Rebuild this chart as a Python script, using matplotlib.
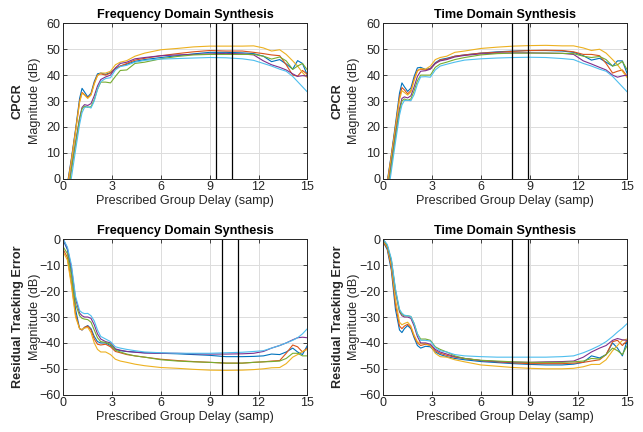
import matplotlib
matplotlib.use('Agg')
import matplotlib.pyplot as plt

plt.rcParams['font.family'] = ['Liberation Sans', 'DejaVu Sans']

# common delay grid (samples)
delay = [0, 0.25, 0.5, 0.75, 1.0, 1.15, 1.3, 1.5, 1.7, 1.9, 2.1, 2.3, 2.6, 2.9, 3.2, 3.5, 3.9,
         4.4, 5, 6, 7, 8, 9, 10, 11, 11.7, 12.3, 12.8, 13.3, 13.7, 14.1, 14.4, 14.7, 15]

line_colors = ['#0072BD', '#D95319', '#EDB120', '#7E2F8E', '#77AC30', '#4DBEEE']

# CPCR, frequency domain synthesis (one row per line)
cpcr_freq = [
    [-12, -2, 8, 19, 31, 34.9, 33.5, 31.6, 33, 37.5, 40.5, 40.8, 40.3, 41, 42.5, 43.5, 44.2,
     45.3, 46, 46.8, 47.5, 48.2, 48.8, 48.8, 48.6, 48.3, 47.3, 45.2, 46, 44.3, 42.3, 45.6, 44.5, 40],
    [-12, -2.5, 7.5, 18.5, 30, 33.3, 32.5, 31.3, 32.5, 37, 40, 40.5, 40, 40.8, 42.5, 43.5, 44.5,
     45.8, 46.5, 47.5, 48.3, 49, 49.5, 49.3, 49.3, 48.8, 48.3, 47.8, 47.5, 44, 40, 39.6, 41.8, 40.3],
    [-13, -3, 7, 18, 29.5, 33, 32.3, 31, 32.3, 36.5, 39.8, 40.8, 40.8, 41.5, 44, 45, 45.6,
     47.3, 48.5, 49.8, 50.3, 50.9, 51.2, 51.2, 51.2, 51.3, 50.5, 49.3, 49.8, 48, 45.5, 43.5, 41, 39],
    [-18, -7, 4, 14, 23.5, 27.5, 28.6, 28.3, 29, 32, 35.8, 38.3, 39.3, 40, 42.8, 44.5, 45,
     46.3, 46.8, 47.5, 47.8, 48, 48.2, 48.4, 48.2, 47.8, 45.5, 44, 43, 42, 40.5, 39.5, 39.8, 39.6],
    [-18, -7.5, 3.5, 13.5, 23, 27, 28, 27.6, 27.8, 30.5, 34.5, 37.3, 37.3, 37, 39.5, 41.8, 42,
     44.5, 45, 46.3, 47.2, 47.8, 48, 48, 48, 48, 47.3, 46.2, 47, 45.5, 42.2, 43.5, 44.5, 42],
    [-20, -9, 0.5, 11, 21, 25.5, 27.5, 27.8, 27.3, 30, 34.5, 37.5, 38.7, 39, 42, 43.3, 43.8,
     45, 45.7, 46.2, 46.4, 46.6, 46.8, 46.7, 46.3, 45.7, 44.5, 43.5, 42.3, 41.5, 39.5, 37.5, 35.5, 33.5],
]

# CPCR, time domain synthesis
cpcr_time = [
    [-12, -1, 9.5, 21, 33, 37, 35.5, 33.7, 35, 39.5, 42.8, 43, 42.2, 42.6, 44.8, 46, 46.5,
     47.3, 47.8, 48.5, 49, 49.3, 49.5, 49.5, 49.3, 48.8, 47.5, 45.8, 46.5, 45, 43.5, 45.5, 45.5, 40.5],
    [-12, -1.5, 9, 20, 31.5, 35.2, 34.3, 32.8, 34, 38.5, 41.8, 42.3, 42, 42.5, 44.5, 45.8, 46.2,
     47.3, 47.8, 48.5, 48.8, 49.2, 49.5, 49.6, 49.5, 49, 48, 48, 47.5, 44.5, 40.8, 41.5, 42, 39.5],
    [-13, -2, 8.5, 19.5, 30.5, 34, 33.3, 32.3, 33.5, 38, 41.5, 42.5, 42.3, 43.5, 46, 46.8, 47.3,
     48.8, 49.3, 50.3, 50.8, 51.2, 51.4, 51.5, 51.3, 51.3, 50.5, 49.5, 50, 48.5, 46, 44, 41.5, 39],
    [-16, -5, 6, 17, 27, 31, 31.6, 31.2, 32, 35.5, 39.5, 41.5, 41.7, 42.3, 44.5, 45.5, 46,
     47, 47.6, 48.2, 48.5, 48.6, 48.6, 48.5, 48.4, 48, 45.5, 44.3, 43, 42, 40, 39.2, 39.7, 40],
    [-17, -6, 5, 16, 26, 30, 30.8, 30.3, 30.8, 34, 37.8, 40, 40, 40, 43, 44.3, 45,
     46, 46.8, 47.8, 48.3, 48.5, 48.5, 48.5, 48.4, 48.3, 47.3, 46.8, 47.2, 46, 43.5, 44, 45.3, 42],
    [-19, -8, 3, 14, 24.5, 28.5, 30.2, 30.3, 30.1, 32.5, 36.5, 39.3, 39.4, 39.2, 42, 43.5, 44.2,
     45, 45.8, 46.3, 46.6, 46.8, 46.9, 46.8, 46.4, 46, 44.5, 43.5, 42.3, 41.5, 39.5, 37.5, 35.5, 33.5],
]

# residual tracking error, frequency domain synthesis
rte_freq = [
    [-0.5, -4, -13, -27, -34.5, -35, -34, -33.3, -34.5, -37.5, -39.5, -40, -40, -41, -42.5, -43, -43.3,
     -43.5, -43.8, -44, -44.2, -44.5, -44.8, -45.3, -45.3, -45.2, -45, -44.3, -44.5, -43.5, -42, -43.5, -44.5, -41],
    [-4, -7, -17, -29, -34.5, -35, -34, -33.5, -35, -38.5, -40.5, -40.8, -40.5, -41.5, -43.3, -43.8, -44.5,
     -45, -45.5, -46.3, -46.8, -47.2, -47.5, -47.8, -47.8, -47.5, -47.3, -47, -46.8, -44, -40.8, -41.5, -43.5, -42],
    [-5, -8, -18, -30, -34.5, -34.8, -34.3, -34, -36, -40, -42.5, -43.5, -43.5, -44.5, -46.3, -47, -47.5,
     -48.2, -48.8, -49.5, -49.8, -50.2, -50.5, -50.6, -50.5, -50.3, -50, -49.6, -49.5, -48, -45.5, -44.5, -43.3, -42.5],
    [0, -3.5, -11, -23, -28.5, -29.5, -30, -30, -30.5, -33, -36.5, -38.5, -39.5, -40, -42.3, -42.8, -43.3,
     -43.6, -43.9, -44, -44, -44.2, -44.3, -44.3, -44.2, -44, -43.3, -42, -41, -40, -38.8, -38, -37.8, -38],
    [-3, -5.5, -14, -25, -29.5, -30.5, -30.8, -31, -32, -35, -38, -39.5, -39.8, -40.5, -42.8, -43.5, -44.3,
     -45, -45.5, -46.5, -47, -47.3, -47.5, -47.8, -47.8, -47.5, -47.3, -47.2, -47, -46, -44, -44, -45, -45],
    [0, -3, -10, -22, -27.5, -28.3, -28.7, -28.6, -29.5, -31.5, -35, -37.5, -38.5, -39.5, -41.5, -42, -42.5,
     -43, -43.5, -43.8, -44, -44, -44, -43.8, -43.6, -43.3, -43, -42, -41, -40, -39, -38, -36.5, -34.5],
]

# residual tracking error, time domain synthesis
rte_time = [
    [-1, -4, -12, -27, -35, -36, -34.5, -33.3, -34.5, -38, -41, -42, -41.3, -41.5, -43.5, -44.5, -45.3,
     -46, -46.5, -47.2, -47.6, -48, -48.3, -48.5, -48.5, -48.2, -47.5, -45, -45.8, -44.5, -40, -42, -45, -39],
    [-1, -3.5, -11, -25, -33.5, -34.5, -33.5, -32.8, -34, -37.5, -40, -41, -40.5, -41, -43, -44, -44.8,
     -45.5, -46, -46.8, -47.3, -47.7, -48, -48, -48, -47.8, -47.5, -47, -46.5, -44.5, -39.5, -39, -41, -39],
    [-0.5, -3, -10, -23, -32, -33, -32.5, -32, -33.5, -37, -39.5, -40.3, -40.3, -41, -44, -45.3, -45.5,
     -46.5, -47.3, -48.5, -49, -49.5, -49.8, -50, -50, -49.8, -49.2, -48.3, -48.3, -46.5, -43, -41, -39, -38.5],
    [0, -2.5, -8.5, -20, -28, -29.5, -30, -30, -30.5, -33.5, -37.5, -40, -40, -40.5, -42.5, -43.5, -44.3,
     -45.3, -46, -46.8, -47.2, -47.4, -47.5, -47.3, -47.2, -47, -45.5, -43.5, -42, -41, -39, -38.3, -38.8, -39],
    [0, -2.5, -8, -19.5, -27.5, -29, -29.5, -29.5, -29.8, -32.5, -36.5, -38.5, -38.5, -39, -41.5, -42.5, -43.5,
     -45, -46, -46.7, -47, -47.3, -47.5, -47.5, -47.5, -47.3, -47, -46, -46.2, -44.5, -42, -43, -44.5, -41],
    [0, -2, -7.5, -19, -27, -28.5, -29.3, -29.5, -29.8, -32.5, -36.5, -39, -39, -39.3, -41.8, -43, -43.5,
     -44.5, -45, -45.3, -45.5, -45.5, -45.5, -45.5, -45.3, -45, -43.8, -42.5, -41, -39.5, -37.5, -35.8, -34.3, -32.5],
]

# vertical markers per panel
marks_cpcr_freq = [9.39, 10.39]
marks_cpcr_time = [7.89, 8.87]
marks_rte_freq = [9.75, 10.76]
marks_rte_time = [7.89, 8.87]

xticks = [0, 3, 6, 9, 12, 15]
cpcr_yticks = [0, 10, 20, 30, 40, 50, 60]
rte_yticks = [-60, -50, -40, -30, -20, -10, 0]

AX_COLOR = '#262626'


def draw_panel(ax, curves, marks, title, ylabel_bold, yticks):
    for y, c in zip(curves, line_colors):
        ax.plot(delay, y, color=c, linewidth=0.8)
    for m in marks:
        ax.axvline(m, color='black', linewidth=0.9)

    ax.set_xlim(0, 15)
    ax.set_ylim(yticks[0], yticks[-1])
    ax.set_xticks(xticks)
    ax.set_yticks(yticks)
    ax.grid(True, color='#dcdcdc', linewidth=0.7)
    ax.set_axisbelow(True)
    ax.tick_params(direction='in', length=3, width=0.6, colors=AX_COLOR,
                   labelsize=9, top=True, right=True, pad=2)
    for s in ax.spines.values():
        s.set_color(AX_COLOR)
        s.set_linewidth(0.7)

    ax.set_title(title, fontsize=9.1, fontweight='bold', color='black', pad=4)
    ax.set_xlabel('Prescribed Group Delay (samp)', fontsize=9.1, color=AX_COLOR, labelpad=1)
    # two-line y label: bold quantity name on the outside, units next to the axis
    ax.text(-0.186, 0.5, ylabel_bold, transform=ax.transAxes, rotation=90,
            ha='center', va='center', fontsize=9.1, fontweight='bold', color=AX_COLOR)
    ax.text(-0.118, 0.5, 'Magnitude (dB)', transform=ax.transAxes, rotation=90,
            ha='center', va='center', fontsize=9.1, color=AX_COLOR)


fig = plt.figure(figsize=(6.43, 4.32), dpi=100)
w, h = 0.3795, 0.3597
ax_tl = fig.add_axes([0.0985, 0.5863, w, h])
ax_tr = fig.add_axes([0.596, 0.5863, w, h])
ax_bl = fig.add_axes([0.0985, 0.0863, w, h])
ax_br = fig.add_axes([0.596, 0.0863, w, h])

draw_panel(ax_tl, cpcr_freq, marks_cpcr_freq, 'Frequency Domain Synthesis', 'CPCR', cpcr_yticks)
draw_panel(ax_tr, cpcr_time, marks_cpcr_time, 'Time Domain Synthesis', 'CPCR', cpcr_yticks)
draw_panel(ax_bl, rte_freq, marks_rte_freq, 'Frequency Domain Synthesis', 'Residual Tracking Error', rte_yticks)
draw_panel(ax_br, rte_time, marks_rte_time, 'Time Domain Synthesis', 'Residual Tracking Error', rte_yticks)

fig.savefig('out.png', dpi=100)
